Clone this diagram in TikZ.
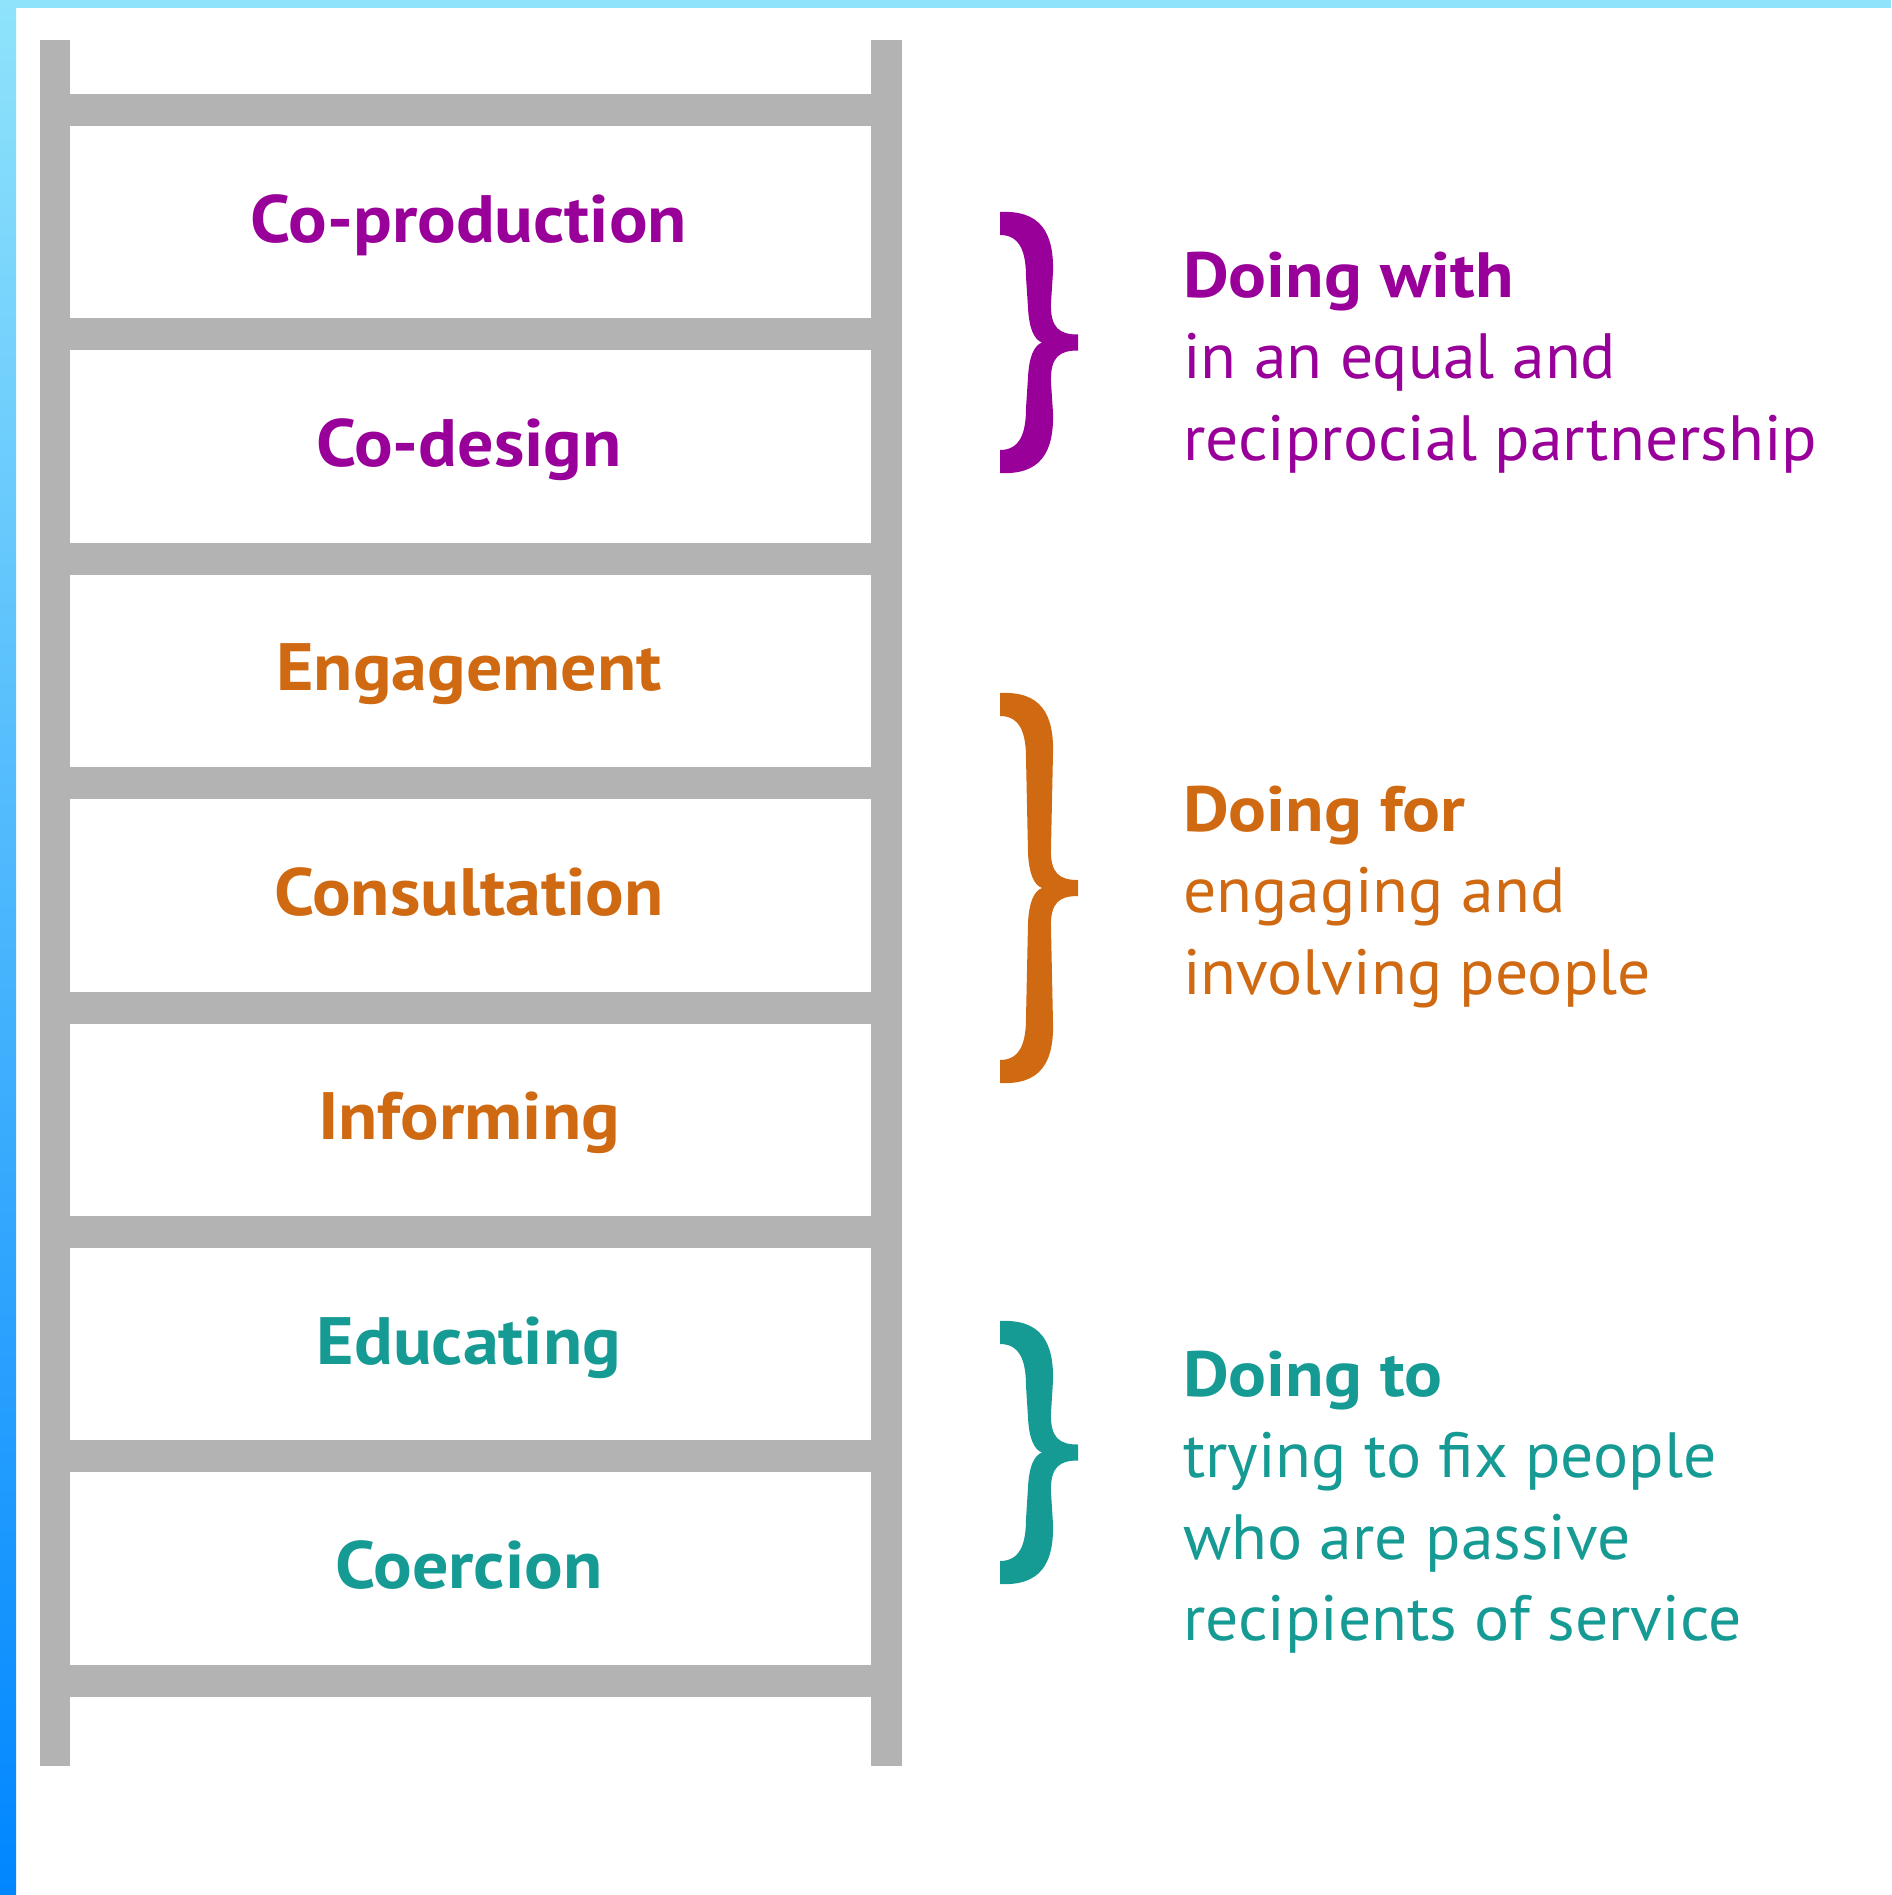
\documentclass[tikz,border=0pt]{standalone}
\usepackage{fontspec}
\setmainfont{PT Sans}
\newfontfamily\labfont{PT Sans}[FakeStretch=1.075]
\newfontfamily\headfont{PT Sans}[FakeStretch=1.105]
\newfontfamily\bodyfont{PT Sans}[FakeStretch=1.025]
\definecolor{cpurple}{HTML}{990099}
\definecolor{corange}{HTML}{D06A12}
\definecolor{cteal}{HTML}{169A94}
\definecolor{railgray}{HTML}{B3B3B3}
\definecolor{edgeblueA}{HTML}{8FE3FB}
\definecolor{edgeblueB}{HTML}{0086FF}
\newcommand{\ladderbrace}[3]{%
  \pgfmathsetmacro{\ya}{#2}\pgfmathsetmacro{\yb}{#3}\pgfmathsetmacro{\ym}{(#2+#3)/2}%
  \fill[#1] (1000,\ya) .. controls (1040,\ya-2) and (1054,\ya+20) .. (1053,\ya+60)
    -- (1051,\ym-40) .. controls (1050,\ym-14) and (1060,\ym-8) .. (1078,\ym-8)
    -- (1078,\ym+8) .. controls (1060,\ym+8) and (1050,\ym+14) .. (1051,\ym+40)
    -- (1053,\yb-60) .. controls (1054,\yb-20) and (1040,\yb+2) .. (1000,\yb)
    -- (1000,\yb-23) .. controls (1020,\yb-23) and (1026,\yb-40) .. (1026,\yb-65)
    -- (1028,\ym+35) .. controls (1029,\ym+14) and (1034,\ym+3) .. (1042,\ym)
    .. controls (1034,\ym-3) and (1029,\ym-14) .. (1028,\ym-35)
    -- (1026,\ya+65) .. controls (1026,\ya+40) and (1020,\ya+23) .. (1000,\ya+23) -- cycle;}
\begin{document}
\begin{tikzpicture}[x=1pt,y=-1pt,
  lab/.style={anchor=base, inner sep=0pt, font=\labfont\fontsize{67}{80}\selectfont\bfseries},
  headtxt/.style={anchor=base west, inner sep=0pt, font=\headfont\fontsize{64}{80}\selectfont\bfseries},
  bodytxt/.style={anchor=base west, inner sep=0pt, font=\bodyfont\fontsize{64}{80}\selectfont}]
\useasboundingbox (0,0) rectangle (1891,1895);
\fill[white] (0,0) rectangle (1891,1895);
\shade[top color=edgeblueA, bottom color=edgeblueB] (0,0) rectangle (16,1895);
\fill[edgeblueA] (0,0) rectangle (1891,8);
% ladder
\fill[railgray] (40,40) rectangle (70,1766);
\fill[railgray] (871,40) rectangle (902,1766);
\foreach \k in {0,...,7} {
  \fill[railgray] (70,{110+224.4*\k-16}) rectangle (871,{110+224.4*\k+16});
}
% labels
\node[lab, text=cpurple] (l1) at (469,242) {Co-production};
\node[lab, text=cpurple] (l2) at (469,466.4) {Co-design};
\node[lab, text=corange] (l3) at (469,690.8) {Engagement};
\node[lab, text=corange] (l4) at (469,915.2) {Consultation};
\node[lab, text=corange] (l5) at (469,1139.6) {Informing};
\node[lab, text=cteal] (l6) at (469,1364) {Educating};
\node[lab, text=cteal] (l7) at (469,1588.4) {Coercion};
% braces
\ladderbrace{cpurple}{212}{473}
\ladderbrace{corange}{693}{1083}
\ladderbrace{cteal}{1321}{1584}
% right texts
\node[headtxt, text=cpurple] (w0) at (1183,297) {Doing with};
\node[bodytxt, text=cpurple] (w1) at (1183,378.5) {in an equal and};
\node[bodytxt, text=cpurple] (w2) at (1183,460) {reciprocial partnership};
\node[headtxt, text=corange] (f0) at (1183,831) {Doing for};
\node[bodytxt, text=corange] (f1) at (1183,912.5) {engaging and};
\node[bodytxt, text=corange] (f2) at (1183,994) {involving people};
\node[headtxt, text=cteal] (t0) at (1183,1396) {Doing to};
\node[bodytxt, text=cteal] (t1) at (1183,1477.5) {trying to fix people};
\node[bodytxt, text=cteal] (t2) at (1183,1559) {who are passive};
\node[bodytxt, text=cteal] (t3) at (1183,1640.5) {recipients of service};
\end{tikzpicture}
\end{document}
